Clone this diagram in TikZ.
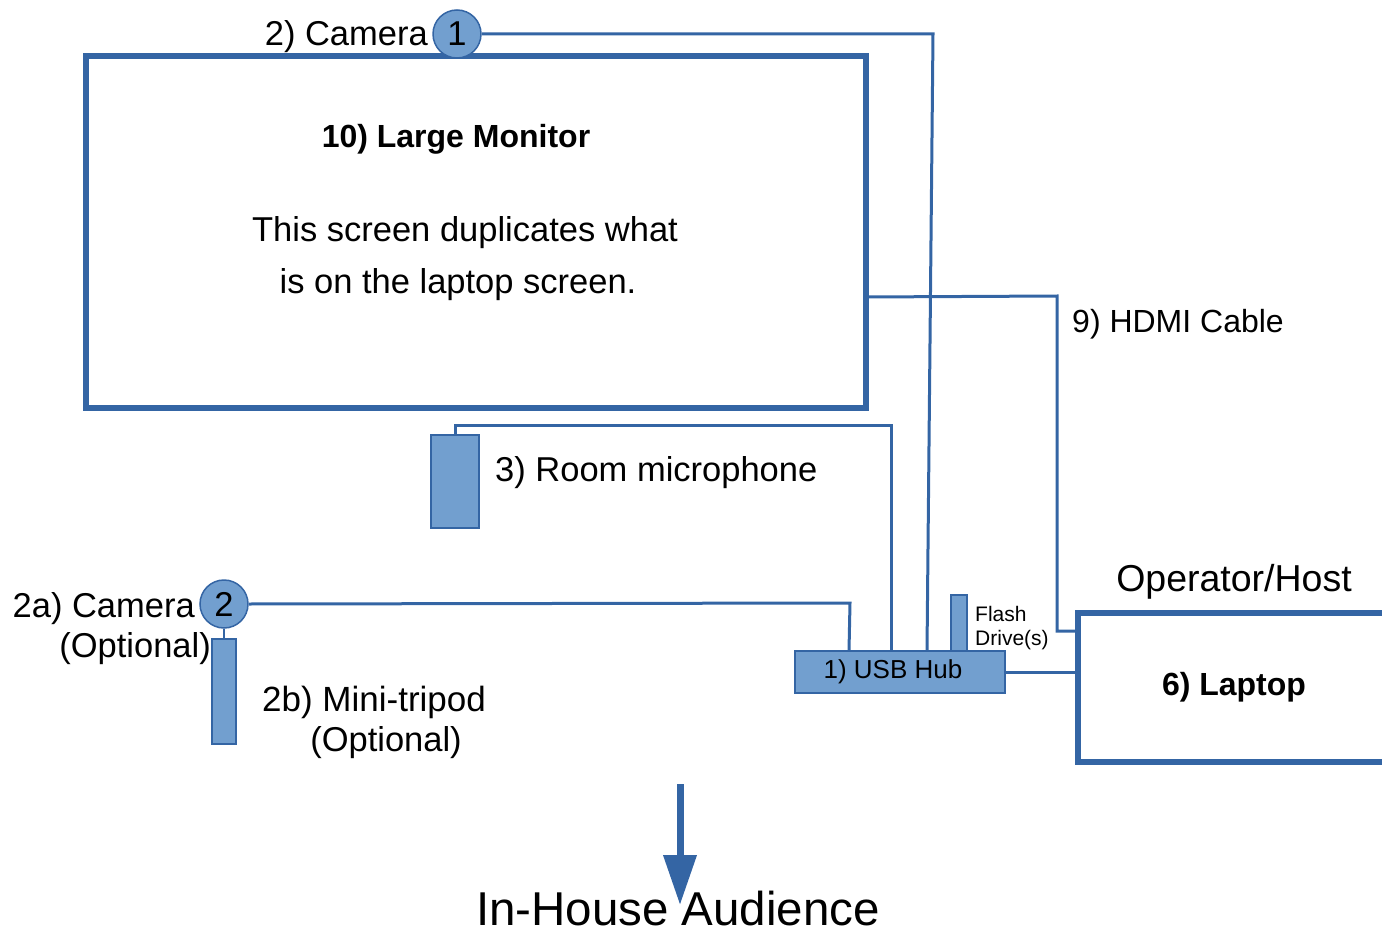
\documentclass[tikz,border=0pt]{standalone}
\usepackage{fontspec}
\setmainfont{Liberation Sans}
\usetikzlibrary{arrows.meta,calc}
\definecolor{lineblue}{RGB}{52,101,164}
\definecolor{fillblue}{RGB}{114,159,207}
\tikzset{
  conn/.style={draw=lineblue, line width=3pt},
  bigbox/.style={draw=lineblue, line width=6pt, rectangle, inner sep=0pt, outer sep=0pt},
  part/.style={draw=lineblue, fill=fillblue, line width=1.2pt, rectangle, inner sep=0pt, outer sep=0pt},
  cam/.style={draw=lineblue, fill=fillblue, line width=1.5pt, circle, inner sep=0pt, minimum size=48pt, font=\fontsize{34.5}{40}\selectfont},
  txt/.style={inner sep=0pt, font=\fontsize{34.5}{40}\selectfont},
  txtb/.style={inner sep=0pt, font=\fontsize{32}{38}\selectfont\bfseries},
  txtm/.style={inner sep=0pt, font=\fontsize{32}{38}\selectfont},
  txts/.style={inner sep=0pt, font=\fontsize{21}{24}\selectfont},
}
\begin{document}
\begin{tikzpicture}[x=1pt,y=-1pt]
\useasboundingbox (0,0) rectangle (1382,931);
% boxes
\node[bigbox, minimum width=780pt, minimum height=352pt] (monitor) at (476,232) {};
\node[bigbox, minimum width=312pt, minimum height=149pt] (laptop) at (1234,687.5) {};
\node[part, minimum width=210pt, minimum height=42pt] (hub) at (900,672) {};
\node[part, minimum width=16pt, minimum height=56pt] (flash) at (959,623) {};
\node[part, minimum width=48pt, minimum height=93pt] (mic) at (455,481.5) {};
\node[part, minimum width=24pt, minimum height=105pt] (tripod) at (224,691.5) {};
\node[cam] (cam1) at (457,34) {1};
\node[cam] (cam2) at (224,604) {2};
% connectors
\draw[conn] (mic.north) -- (455,425) -- (891,425) -- ($(hub.north west)+(96,0)$);
\draw[conn] ($(monitor.north east)+(0,241)$) -- (1057,296) -- (1057,631) -- ($(laptop.north west)+(0,18)$);
\draw[conn] (hub.east) -- (hub.east -| laptop.west);
\draw[conn] (cam1.east) -- (933,34) -- ($(hub.north west)+(132,0)$);
\draw[conn] (cam2.east) -- (850,603) -- ($(hub.north west)+(54,0)$);
\draw[conn, line width=2.5pt] (cam2.south) -- (tripod.north);
% texts
\node[txt, anchor=base east] (t2) at (428,46) {2) Camera};
\node[txtb, anchor=base] (t10) at (456,148) {10) Large Monitor};
\node[txt, anchor=base] (t10a) at (465,241) {This screen duplicates what};
\node[txt, anchor=base] (t10b) at (458,293) {is on the laptop screen.};
\node[txtm, anchor=base west] (t9) at (1072,332) {9) HDMI Cable};
\node[txt, anchor=base west] (t3) at (495,481) {3) Room microphone};
\node[txt, font=\fontsize{37.5}{44}\selectfont, anchor=base] (top) at (1234,591) {Operator/Host};
\node[txtb, anchor=base] (t6) at (1234,695) {6) Laptop};
\node[txt, font=\fontsize{26}{30}\selectfont, anchor=base] (t1) at (893,678) {1) USB Hub};
\node[txts, anchor=base west] (tf1) at (975,621.5) {Flash};
\node[txts, anchor=base west] (tf2) at (975,645.5) {Drive(s)};
\node[txt, anchor=base east] (t2a) at (195,617) {2a) Camera};
\node[txt, anchor=base east] (t2a2) at (211,657) {(Optional)};
\node[txt, font=\fontsize{35}{40}\selectfont, anchor=base west] (t2b) at (262,711) {2b) Mini-tripod};
\node[txt, anchor=base] (t2b2) at (386,751) {(Optional)};
\node[txt, font=\fontsize{47.5}{56}\selectfont, anchor=base, text depth=0pt] (aud) at (678,925) {In-House Audience};
% arrow
\coordinate (arrS) at (680,784);
\coordinate (arrE) at (680,905);
\draw[draw=lineblue, fill=lineblue, line width=7pt, -{Triangle[length=50pt,width=32pt]}] (arrS) -- (arrE);
\end{tikzpicture}
\end{document}
